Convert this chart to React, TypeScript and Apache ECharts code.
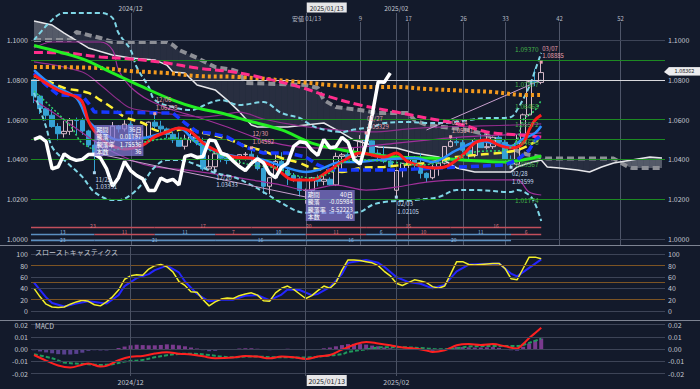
import React, { useEffect, useRef } from 'react';
import * as echarts from 'echarts';

const BG = '#131a2b';
const FONT = '"Noto Sans CJK JP", "Noto Sans", sans-serif';

function weekdayCategories(): string[] {
  const out: string[] = [];
  const d = new Date(Date.UTC(2024, 10, 8));
  while (out.length < 105) {
    const wd = d.getUTCDay();
    const s = `${d.getUTCFullYear()}/${String(d.getUTCMonth() + 1).padStart(2, '0')}/${String(d.getUTCDate()).padStart(2, '0')}`;
    if (wd !== 0 && wd !== 6 && s !== '2025/01/01') out.push(s);
    d.setUTCDate(d.getUTCDate() + 1);
  }
  return out;
}
const categories = weekdayCategories();

// [open, close, low, high]
const ohlc = [
  [1.0800, 1.0720, 1.0683, 1.0805], [1.0718, 1.0655, 1.0628, 1.0725], [1.0655, 1.0622, 1.0595, 1.0662],
  [1.0622, 1.0565, 1.0559, 1.0653], [1.0565, 1.0529, 1.0496, 1.0582], [1.0529, 1.0541, 1.0510, 1.0594],
  [1.0541, 1.0597, 1.0523, 1.0608], [1.0597, 1.0595, 1.0523, 1.0610], [1.0595, 1.0543, 1.0523, 1.0609],
  [1.0543, 1.0472, 1.0461, 1.0549], [1.0472, 1.0418, 1.03331, 1.0497], [1.0418, 1.0495, 1.0418, 1.0540],
  [1.0495, 1.0488, 1.0423, 1.0514], [1.0488, 1.0567, 1.0470, 1.0588], [1.0567, 1.0553, 1.0535, 1.0573],
  [1.0553, 1.0577, 1.0540, 1.0597], [1.0577, 1.0498, 1.0460, 1.0592], [1.0498, 1.0510, 1.0474, 1.0540],
  [1.0510, 1.0511, 1.0483, 1.0545], [1.0511, 1.0587, 1.0505, 1.0590], [1.0587, 1.0567, 1.0554, 1.06298],
  [1.0567, 1.0553, 1.0530, 1.0594], [1.0553, 1.0526, 1.0505, 1.0560], [1.0526, 1.0498, 1.0482, 1.0540],
  [1.0498, 1.0466, 1.0465, 1.0535], [1.0466, 1.0501, 1.0450, 1.0524], [1.0501, 1.0513, 1.0483, 1.0535],
  [1.0513, 1.0489, 1.0471, 1.0522], [1.0489, 1.0352, 1.0343, 1.0509], [1.0352, 1.0363, 1.0344, 1.0421],
  [1.0363, 1.0428, 1.03433, 1.0443], [1.0428, 1.0406, 1.0386, 1.0445], [1.0406, 1.0395, 1.0376, 1.0416],
  [1.0395, 1.0400, 1.0385, 1.0410], [1.0400, 1.0424, 1.0375, 1.0427], [1.0424, 1.0426, 1.0395, 1.0437],
  [1.0426, 1.0407, 1.0390, 1.04582], [1.0407, 1.0354, 1.0345, 1.0420], [1.0354, 1.0265, 1.0226, 1.0366],
  [1.0265, 1.0308, 1.0225, 1.0310], [1.0308, 1.0390, 1.0300, 1.0437], [1.0390, 1.0344, 1.0343, 1.0436],
  [1.0344, 1.0319, 1.0271, 1.0357], [1.0319, 1.0302, 1.0286, 1.0332], [1.0302, 1.0244, 1.0214, 1.0314],
  [1.0244, 1.0244, 1.01774, 1.0253], [1.0244, 1.0307, 1.0232, 1.0312], [1.0307, 1.0290, 1.0265, 1.0323],
  [1.0290, 1.0300, 1.0270, 1.0320], [1.0300, 1.0272, 1.0266, 1.0310], [1.0272, 1.0415, 1.0266, 1.0434],
  [1.0415, 1.0423, 1.0347, 1.0432], [1.0423, 1.0410, 1.0395, 1.0445], [1.0410, 1.0415, 1.0395, 1.0457],
  [1.0415, 1.0497, 1.0413, 1.0522], [1.0497, 1.0493, 1.0433, 1.05329], [1.0493, 1.0431, 1.0415, 1.0495],
  [1.0431, 1.0421, 1.0397, 1.0450], [1.0421, 1.0391, 1.0381, 1.0466], [1.0391, 1.0364, 1.0359, 1.0419],
  [1.0245, 1.0344, 1.02105, 1.0348], [1.0344, 1.0380, 1.0310, 1.0382], [1.0380, 1.0403, 1.0357, 1.0441],
  [1.0403, 1.0383, 1.0349, 1.0417], [1.0383, 1.0330, 1.0304, 1.0430], [1.0330, 1.0308, 1.0285, 1.0335],
  [1.0308, 1.0362, 1.0300, 1.0372], [1.0362, 1.0381, 1.0318, 1.0384], [1.0381, 1.0465, 1.0375, 1.0467],
  [1.0465, 1.0489, 1.0460, 1.05141], [1.0489, 1.0484, 1.0469, 1.0513], [1.0484, 1.0446, 1.0435, 1.0498],
  [1.0446, 1.0420, 1.0400, 1.0456], [1.0420, 1.0500, 1.0410, 1.0505], [1.0500, 1.0459, 1.0458, 1.0528],
  [1.0459, 1.0464, 1.0450, 1.0528], [1.0464, 1.0511, 1.0453, 1.0515], [1.0511, 1.0486, 1.0468, 1.0528],
  [1.0486, 1.0400, 1.0397, 1.0500], [1.0400, 1.0376, 1.03599, 1.0420], [1.0376, 1.0482, 1.0370, 1.0525],
  [1.0482, 1.0624, 1.0472, 1.0630], [1.0624, 1.0790, 1.0617, 1.0797], [1.0790, 1.0787, 1.0768, 1.0854],
  [1.0787, 1.08362, 1.0778, 1.08885],
];

// lagging span (closes plotted 25 bars back)
const laggingSpan = [
  1.0501, 1.0513, 1.0489, 1.0352, 1.0363, 1.0428, 1.0406, 1.0395, 1.0400, 1.0424,
  1.0426, 1.0407, 1.0354, 1.0265, 1.0308, 1.0390, 1.0344, 1.0319, 1.0302, 1.0244,
  1.0244, 1.0307, 1.0290, 1.0300, 1.0272, 1.0415, 1.0423, 1.0410, 1.0415, 1.0497,
  1.0493, 1.0431, 1.0421, 1.0391, 1.0364, 1.0344, 1.0380, 1.0403, 1.0383, 1.0330,
  1.0308, 1.0362, 1.0381, 1.0465, 1.0489, 1.0484, 1.0446, 1.0420, 1.0500, 1.0459,
  1.0464, 1.0511, 1.0486, 1.0400, 1.0376, 1.0482, 1.0624, 1.0790, 1.0787, 1.0834,
];

const spanA = [[0, 1.1095], [3, 1.1075], [5, 1.1035], [9, 1.0960], [13, 1.0925], [16, 1.0910], [20, 1.0900], [22, 1.0874], [23, 1.0839], [25, 1.0834], [27, 1.0774], [30, 1.0749], [32, 1.0698], [34, 1.0640], [36, 1.0573], [37, 1.0563], [42, 1.0563], [48, 1.0583], [51, 1.0533], [53, 1.0497], [57, 1.0462], [60, 1.0457], [63, 1.0432], [67, 1.0412], [70, 1.0357], [73, 1.0337], [79, 1.0337], [80, 1.0362], [82, 1.0382], [84, 1.0397], [85, 1.0362], [87, 1.0357], [90, 1.0347], [92, 1.0337], [94, 1.0362], [96, 1.0382], [99, 1.0397], [102, 1.0412], [104, 1.0407]];
const spanB = [[0, 1.1000], [6, 1.1000], [7, 1.1040], [11, 1.1010], [13, 1.0990], [22, 1.0990], [23, 1.0975], [24, 1.0950], [27, 1.0910], [30, 1.0864], [33, 1.0849], [34, 1.0839], [35, 1.0784], [45, 1.0774], [47, 1.0759], [48, 1.0698], [50, 1.0663], [54, 1.0648], [57, 1.0633], [62, 1.0633], [63, 1.0598], [65, 1.0573], [69, 1.0558], [72, 1.0548], [75, 1.0523], [78, 1.0473], [81, 1.0430], [85, 1.0404], [96, 1.0404], [97, 1.0386], [98, 1.0369], [99, 1.0357], [104, 1.0357]];
const bandUpper = [[0, 1.1000], [3, 1.1101], [5, 1.1136], [11, 1.1136], [13, 1.1111], [14, 1.1035], [16, 1.0950], [17, 1.0864], [19, 1.0764], [20, 1.0698], [23, 1.0663], [26, 1.0648], [29, 1.0683], [31, 1.0698], [34, 1.0673], [38, 1.0688], [41, 1.0633], [44, 1.0608], [45, 1.0588], [47, 1.0558], [51, 1.0538], [53, 1.0550], [56, 1.0563], [58, 1.0583], [62, 1.0588], [65, 1.0583], [68, 1.0583], [72, 1.0598], [75, 1.0608], [77, 1.0608], [79, 1.0613], [80, 1.0648], [82, 1.0764], [83, 1.0849], [84, 1.0935]];
const bandLower = [[0, 1.0734], [2, 1.0563], [3, 1.0462], [5, 1.0397], [8, 1.0312], [10, 1.0236], [13, 1.0196], [14, 1.0196], [16, 1.0221], [18, 1.0281], [20, 1.0362], [22, 1.0397], [24, 1.0397], [27, 1.0372], [30, 1.0332], [33, 1.0312], [36, 1.0271], [38, 1.0236], [41, 1.0181], [44, 1.0136], [46, 1.0131], [52, 1.0131], [54, 1.0136], [56, 1.0171], [58, 1.0186], [63, 1.0196], [67, 1.0211], [70, 1.0246], [73, 1.0246], [79, 1.0236], [80, 1.0246], [82, 1.0221], [83, 1.0176], [84, 1.0090]];
const magentaUpper = [[0, 1.0960], [3, 1.0990], [11, 1.0990], [13, 1.0950], [14, 1.0849], [16, 1.0764], [19, 1.0698], [23, 1.0648], [27, 1.0613], [32, 1.0563], [38, 1.0497], [44, 1.0462], [49, 1.0457], [54, 1.0462], [60, 1.0482], [65, 1.0497], [71, 1.0513], [78, 1.0523], [84, 1.0533]];
const magentaMid = [[0, 1.0890], [8, 1.0839], [11, 1.0774], [14, 1.0698], [16, 1.0658], [20, 1.0638], [24, 1.0623], [28, 1.0613], [31, 1.0623], [34, 1.0638], [38, 1.0603], [44, 1.0568], [50, 1.0548], [56, 1.0538], [62, 1.0553], [68, 1.0563], [74, 1.0568], [80, 1.0573], [84, 1.0578]];
const magentaLower = [[0, 1.0698], [5, 1.0598], [11, 1.0472], [16, 1.0397], [20, 1.0362], [25, 1.0347], [31, 1.0322], [36, 1.0297], [41, 1.0271], [45, 1.0246], [50, 1.0271], [55, 1.0246], [60, 1.0261], [65, 1.0286], [71, 1.0297], [80, 1.0297], [82, 1.0236], [84, 1.0221]];
const orangeLine = [[0, 1.0864], [11, 1.0859], [16, 1.0844], [22, 1.0834], [27, 1.0819], [34, 1.0814], [44, 1.0789], [49, 1.0774], [54, 1.0764], [60, 1.0764], [65, 1.0754], [72, 1.0744], [76, 1.0739], [81, 1.0724], [84, 1.0724]];
const pinkLine = [[0, 1.0937], [5, 1.0935], [11, 1.0915], [16, 1.0905], [22, 1.0884], [27, 1.0859], [33, 1.0839], [38, 1.0809], [44, 1.0764], [49, 1.0714], [54, 1.0673], [60, 1.0638], [65, 1.0608], [71, 1.0573], [75, 1.0538], [80, 1.0523], [84, 1.0513]];
const greenLine = [[0, 1.0972], [8, 1.0905], [12, 1.0849], [18, 1.0764], [23, 1.0698], [27, 1.0658], [31, 1.0633], [35, 1.0598], [41, 1.0548], [46, 1.0482], [51, 1.0447], [54, 1.0432], [60, 1.0412], [66, 1.0407], [71, 1.0397], [78, 1.0387], [81, 1.0397], [84, 1.0417]];
const yellowLine = [[0, 1.0819], [3, 1.0784], [5, 1.0759], [9, 1.0734], [11, 1.0698], [13, 1.0658], [15, 1.0613], [18, 1.0583], [20, 1.0548], [22, 1.0538], [25, 1.0553], [28, 1.0533], [32, 1.0503], [35, 1.0468], [38, 1.0442], [41, 1.0407], [44, 1.0382], [46, 1.0357], [48, 1.0347], [51, 1.0337], [54, 1.0357], [58, 1.0362], [61, 1.0372], [65, 1.0382], [70, 1.0412], [73, 1.0422], [77, 1.0432], [80, 1.0447], [82, 1.0472], [84, 1.0508]];
const kijunLine = [[0, 1.0834], [2, 1.0774], [4, 1.0724], [8, 1.0719], [9, 1.0683], [10, 1.0638], [23, 1.0633], [24, 1.0608], [25, 1.0583], [27, 1.0538], [29, 1.0533], [32, 1.0513], [35, 1.0462], [38, 1.0432], [42, 1.0432], [45, 1.0412], [47, 1.0372], [49, 1.0347], [60, 1.0347], [67, 1.0357], [78, 1.0372], [80, 1.0397], [82, 1.0447], [83, 1.0497], [84, 1.0523]];
const lightBlueLine = [[0, 1.0849], [3, 1.0774], [7, 1.0709], [9, 1.0593], [11, 1.0543], [14, 1.0497], [18, 1.0507], [22, 1.0538], [24, 1.0558], [27, 1.0482], [31, 1.0432], [34, 1.0412], [38, 1.0397], [42, 1.0357], [45, 1.0337], [47, 1.0347], [51, 1.0387], [53, 1.0387], [57, 1.0397], [63, 1.0407], [66, 1.0387], [70, 1.0447], [74, 1.0492], [76, 1.0482], [79, 1.0467], [81, 1.0503], [83, 1.0533], [84, 1.0568]];
const redLine = [[0, 1.0824], [3, 1.0764], [5, 1.0734], [7, 1.0714], [8, 1.0689], [9, 1.0593], [10, 1.0543], [12, 1.0482], [15, 1.0452], [18, 1.0472], [20, 1.0513], [22, 1.0538], [24, 1.0558], [26, 1.0538], [28, 1.0482], [30, 1.0447], [33, 1.0412], [36, 1.0407], [38, 1.0387], [40, 1.0357], [43, 1.0297], [46, 1.0297], [49, 1.0347], [52, 1.0407], [54, 1.0432], [58, 1.0412], [60, 1.0432], [62, 1.0387], [66, 1.0357], [68, 1.0362], [71, 1.0422], [73, 1.0482], [75, 1.0497], [77, 1.0472], [79, 1.0457], [81, 1.0482], [82, 1.0548], [83, 1.0598], [84, 1.0623]];
const greenDotted = [[0, 1.0744], [6, 1.0568], [8, 1.0482], [11, 1.0447], [13, 1.0447], [16, 1.0472], [20, 1.0497], [23, 1.0507], [26, 1.0497], [29, 1.0447], [33, 1.0397], [36, 1.0372], [40, 1.0357], [43, 1.0322], [46, 1.0307], [49, 1.0332], [51, 1.0382], [55, 1.0397], [59, 1.0387], [64, 1.0372], [69, 1.0397], [73, 1.0437], [78, 1.0447], [80, 1.0497], [81, 1.0598], [83, 1.0648], [84, 1.0698]];
const trendLine1 = [[10, 1.0432], [45, 1.0211]];
const trendLine2 = [[65, 1.0548], [84, 1.0799]];

const priceGrid = [1.0, 1.02, 1.04, 1.06, 1.08, 1.1];
const fibLevels = [1.0937, 1.07577, 1.06468, 1.05572, 1.04676, 1.03567, 1.01774];
const fibLabels = ['1.09370', '1.07577', '1.06468', '1.05572', '1.04676', '1.03567', '1.01774'];
const currentPrice = 1.08362;

const extremes = [
  { i: 10, v: 1.03331, kind: 'low', d: '11/22', t: '1.03331' },
  { i: 20, v: 1.06298, kind: 'high', d: '12/06', t: '1.06298' },
  { i: 30, v: 1.03433, kind: 'low', d: '12/20', t: '1.03433' },
  { i: 36, v: 1.04582, kind: 'high', d: '12/30', t: '1.04582' },
  { i: 55, v: 1.05329, kind: 'high', d: '01/27', t: '1.05329' },
  { i: 60, v: 1.02105, kind: 'low', d: '02/03', t: '1.02105' },
  { i: 69, v: 1.05141, kind: 'high', d: '02/14', t: '1.05141' },
  { i: 79, v: 1.03599, kind: 'low', d: '02/28', t: '1.03599' },
  { i: 84, v: 1.08885, kind: 'high', d: '03/07', t: '1.08885' },
];

const monthLines = [16, 45, 60];
const monthLabels = [{ i: 16, t: '2024/12' }, { i: 60, t: '2025/02' }];
const countLines = [{ i: 45, t: '安値 01/13' }, { i: 54, t: '9' }, { i: 62, t: '17' }, { i: 71, t: '26' }, { i: 78, t: '33' }, { i: 87, t: '42' }, { i: 97, t: '52' }];

const infoBoxes = [
  { i: 10, v: 1.0573, rows: [['期間', '36日'], ['騰落', '0.01797'], ['騰落率', '1.75536'], ['本数', '36']] },
  { i: 45, v: 1.0246, rows: [['期間', '40日'], ['騰落', '-0.05984'], ['騰落率', '-5.52223'], ['本数', '40']] },
];

// wave count rows: [fromIdx(-1 = left edge), toIdx, label, colour key]
const waveRow1 = [[-1, 20, '23', 'r'], [20, 36, '17', 'r'], [36, 55, '20', 'r'], [55, 69, '15', 'r'], [69, 84, '16', 'r']];
const waveRow2 = [[-1, 10, '13', 'b'], [10, 20, '11', 'r'], [20, 30, '11', 'b'], [30, 36, '7', 'r'], [36, 45, '10', 'b'], [45, 55, '11', 'r'], [55, 60, '6', 'b'], [60, 69, '10', 'r'], [69, 79, '11', 'b'], [79, 84, '6', 'r']];
const waveRow3 = [[-1, 10, '23', 'b'], [10, 30, '21', 'b'], [30, 45, '16', 'b'], [45, 60, '16', 'b'], [60, 79, '20', 'b']];
const waveRowLevels = [1.00603, 1.00276, 0.9995];

// slow stochastics
const stochK = [40, 25, 12, 7, 6, 7, 12, 16, 19, 17, 11, 9, 16, 25, 37, 56, 62, 64, 63, 74, 80, 82, 78, 69, 52, 45, 34, 33, 20, 9, 16, 21, 23, 22, 27, 30, 32, 28, 18, 17, 32, 40, 44, 38, 30, 22, 27, 36, 44, 40, 50, 72, 90, 90, 89, 87, 85, 80, 70, 62, 49, 45, 50, 55, 53, 50, 43, 40, 44, 65, 87, 87, 82, 81, 82, 83, 84, 84, 75, 57, 55, 75, 95, 95, 92];
const stochD = [[0, 50], [2, 24], [3, 14], [5, 8], [7, 13], [9, 17], [10, 16], [12, 13], [14, 28], [15, 44], [17, 58], [19, 65], [20, 72], [22, 80], [24, 68], [25, 52], [27, 30], [29, 17], [31, 20], [33, 20], [35, 27], [37, 28], [39, 19], [41, 29], [42, 38], [44, 37], [46, 28], [47, 30], [49, 42], [51, 65], [52, 85], [55, 90], [57, 85], [58, 78], [60, 60], [62, 51], [64, 48], [66, 40], [68, 46], [70, 70], [72, 82], [74, 83], [77, 84], [79, 66], [80, 61], [82, 76], [84, 91]];

// MACD
const macdLine = [[0, -0.0049], [2, -0.0095], [4, -0.0135], [6, -0.0151], [8, -0.0128], [9, -0.0118], [11, -0.0143], [12, -0.0138], [14, -0.0092], [16, -0.0063], [18, -0.0057], [20, -0.0037], [22, -0.0027], [24, -0.0038], [26, -0.0045], [28, -0.006], [30, -0.0076], [33, -0.007], [35, -0.0057], [37, -0.0062], [39, -0.0076], [41, -0.0062], [43, -0.0068], [45, -0.0081], [47, -0.0062], [49, -0.0049], [51, -0.0005], [53, 0.0035], [55, 0.0058], [57, 0.0045], [59, 0.003], [61, 0.0012], [63, 0.0004], [65, -0.0012], [66, -0.0024], [68, -0.001], [70, 0.003], [72, 0.004], [74, 0.0032], [76, 0.004], [78, 0.0022], [80, 0.0005], [81, 0.004], [82, 0.009], [83, 0.013], [84, 0.0173]];
const signalLine = [[0, -0.0043], [3, -0.0076], [5, -0.011], [9, -0.0124], [11, -0.013], [13, -0.0124], [15, -0.0103], [18, -0.0089], [20, -0.0068], [22, -0.0051], [24, -0.004], [26, -0.0038], [29, -0.0049], [31, -0.0062], [33, -0.0068], [35, -0.0062], [37, -0.0062], [40, -0.0068], [42, -0.0068], [44, -0.007], [46, -0.0068], [48, -0.0057], [51, -0.0043], [52, -0.0025], [55, -0.0003], [58, 0.0014], [61, 0.0014], [65, 0.0005], [67, -0.0003], [70, 0.0005], [72, 0.002], [76, 0.0024], [80, 0.0024], [82, 0.005], [84, 0.0086]];
const macdHist = [-0.001, -0.002, -0.0028, -0.0035, -0.0042, -0.0045, -0.0045, -0.004, -0.003, -0.0015, -0.001, -0.0012, -0.0012, -0.0005, 0.0008, 0.002, 0.003, 0.0035, 0.0032, 0.003, 0.003, 0.0033, 0.0038, 0.0035, 0.003, 0.0022, 0.0012, 0.0004, -0.001, -0.0018, -0.0015, -0.0008, -0.0004, 0, 0.0004, 0.0006, 0.0006, 0.0002, -0.0006, -0.001, -0.0008, -0.0002, 0.0002, 0, -0.0006, -0.001, -0.0006, 0, 0.0006, 0.0012, 0.0022, 0.0032, 0.004, 0.0042, 0.004, 0.0036, 0.0028, 0.0022, 0.0012, 0.0006, 0.0002, -0.0002, -0.0004, -0.0004, -0.0006, -0.0012, -0.0016, -0.001, 0, 0.0012, 0.0018, 0.0016, 0.0014, 0.0012, 0.0012, 0.0014, 0.0016, 0.001, -0.0002, -0.001, -0.0014, 0.0018, 0.0045, 0.007, 0.0086];

const Y0 = { min: 0.99648, max: 1.11859 };
const Y1 = { min: -15.9, max: 112.9 };
const Y2 = { min: -0.02204, max: 0.02286 };

function lineSeries(data: any[], color: string, width: number, type: any, z: number, smooth: any = 0.35, extra: any = {}) {
  return {
    type: 'line', data, xAxisIndex: 0, yAxisIndex: 0, symbol: 'none', showSymbol: false, silent: true,
    smooth, z, lineStyle: { color, width, type, cap: 'butt' }, ...extra,
  };
}

// value of a knot polyline at position k (drawing helper for the cloud)
function at(knots: number[][], k: number): number {
  if (k <= knots[0][0]) return knots[0][1];
  for (let j = 1; j < knots.length; j++) {
    if (k <= knots[j][0]) {
      const [x0, y0] = knots[j - 1];
      const [x1, y1] = knots[j];
      return y0 + ((y1 - y0) * (k - x0)) / (x1 - x0);
    }
  }
  return knots[knots.length - 1][1];
}

function buildOption(): any {
  const lab = (values: number[], fmt: (v: number) => string) => ({
    customValues: values, formatter: fmt, color: '#c4c8d2', fontSize: 7, fontFamily: FONT, margin: 3,
  });
  const yAx = (gridIndex: number, r: { min: number; max: number }, position: string, values: number[], fmt: (v: number) => string) => ({
    type: 'value', gridIndex, min: r.min, max: r.max, position,
    axisLine: { show: false }, axisTick: { show: false }, splitLine: { show: false },
    axisLabel: lab(values, fmt),
  });
  const xAx = (gridIndex: number, showLabels: boolean) => ({
    type: 'category', gridIndex, data: categories, boundaryGap: true,
    axisLine: { show: false }, axisTick: { show: false }, splitLine: { show: false },
    axisLabel: showLabels
      ? { show: true, interval: (idx: number) => monthLabels.some((m) => m.i === idx), formatter: (v: string) => v.slice(0, 7), color: '#c4c8d2', fontSize: 7, fontFamily: FONT, margin: 2 }
      : { show: false },
  });
  const pf = (v: number) => v.toFixed(4);
  const sf = (v: number) => String(v);
  const mf = (v: number) => v.toFixed(2);
  const stochVals = [0, 20, 40, 60, 80, 100];
  const macdVals = [-0.02, -0.01, 0, 0.01, 0.02];
  const vmarks = monthLines.map((i) => ({ xAxis: categories[i] }));
  const lastIdx = categories.length - 1;

  return {
    animation: false,
    backgroundColor: BG,
    textStyle: { fontFamily: FONT },
    grid: [
      { left: 31, right: 35, top: 3, height: 243 },
      { left: 31, right: 35, top: 247, height: 73 },
      { left: 31, right: 35, top: 321, height: 55 },
    ],
    xAxis: [xAx(0, false), xAx(1, false), xAx(2, true)],
    yAxis: [
      yAx(0, Y0, 'left', priceGrid, pf), yAx(0, Y0, 'right', priceGrid, pf),
      yAx(1, Y1, 'left', stochVals, sf), yAx(1, Y1, 'right', stochVals, sf),
      yAx(2, Y2, 'left', macdVals, mf), yAx(2, Y2, 'right', macdVals, mf),
    ],
    series: [
      {
        type: 'line', data: [[0, null]], xAxisIndex: 0, yAxisIndex: 0, symbol: 'none', silent: true, z: 0,
        markLine: {
          silent: true, symbol: 'none', animation: false, label: { show: false },
          data: [
            ...priceGrid.map((v) => ({ yAxis: v, lineStyle: { color: '#3d4457', width: 1, type: 'solid' } })),
            ...fibLevels.map((v) => ({ yAxis: v, lineStyle: { color: '#1d8a22', width: 1, type: 'solid' } })),
          ],
        },
      },
      {
        type: 'custom', xAxisIndex: 0, yAxisIndex: 0, silent: true, z: 1, data: [0],
        renderItem: (_p: any, api: any) => {
          const light = 'rgba(165,168,180,0.45)';
          const dark = 'rgba(125,130,150,0.2)';
          const children: any[] = [];
          for (let k = 0; k < lastIdx; k++) {
            const a0 = at(spanA, k), a1 = at(spanA, k + 1), b0 = at(spanB, k), b1 = at(spanB, k + 1);
            const d0 = a0 - b0, d1 = a1 - b1;
            if (d0 * d1 < 0) {
              const t = d0 / (d0 - d1);
              const xm = k + t;
              const ym = a0 + (a1 - a0) * t;
              children.push({ type: 'polygon', shape: { points: [api.coord([k, a0]), api.coord([xm, ym]), api.coord([k, b0])] }, style: { fill: d0 > 0 ? light : dark } });
              children.push({ type: 'polygon', shape: { points: [api.coord([xm, ym]), api.coord([k + 1, a1]), api.coord([k + 1, b1])] }, style: { fill: d1 > 0 ? light : dark } });
            } else {
              children.push({
                type: 'polygon',
                shape: { points: [api.coord([k, a0]), api.coord([k + 1, a1]), api.coord([k + 1, b1]), api.coord([k, b0])] },
                style: { fill: d0 + d1 > 0 ? light : dark },
              });
            }
          }
          return { type: 'group', children };
        },
      },
      lineSeries(spanB, '#8d8f96', 4, [7, 4], 2, false),
      lineSeries(spanA, '#e6e6ea', 1.5, 'solid', 2, false),
      {
        type: 'candlestick', data: ohlc, xAxisIndex: 0, yAxisIndex: 0, barWidth: 5, silent: true, z: 3,
        itemStyle: { color: 'rgba(0,0,0,0)', color0: '#35a2d4', borderColor: '#d6bac9', borderColor0: '#35a2d4', borderWidth: 1 },
        markLine: {
          silent: true, symbol: 'none', animation: false,
          data: [{ yAxis: currentPrice, lineStyle: { color: '#d8d8dc', width: 1, type: 'solid' }, label: { show: false } }],
        },
      },
      lineSeries(magentaUpper, '#a0309a', 1.2, 'solid', 4),
      lineSeries(magentaMid, '#8e2c8a', 1.2, 'solid', 4),
      lineSeries(magentaLower, '#a0309a', 1.2, 'solid', 4),
      lineSeries(bandUpper, '#7fd6e6', 2, [5, 3], 4),
      lineSeries(bandLower, '#7fd6e6', 2, [5, 3], 4),
      lineSeries(trendLine1, '#c9a0cf', 1, 'solid', 4, false),
      lineSeries(trendLine2, '#c9a0cf', 1, 'solid', 4, false),
      lineSeries(orangeLine, '#f39a1e', 4, [3, 3], 5),
      lineSeries(pinkLine, '#ff2d8c', 3, [9, 4], 5),
      lineSeries(greenLine, '#22ee22', 3, 'solid', 5),
      lineSeries(yellowLine, '#fff035', 2.5, [8, 5], 6),
      lineSeries(kijunLine, '#1638ff', 3.5, [8, 4], 6, false),
      lineSeries(lightBlueLine, '#2b8dff', 2.5, 'solid', 6),
      lineSeries(redLine, '#ff1c1c', 3, 'solid', 6),
      lineSeries(greenDotted, '#2fd06a', 1.5, [2, 2], 6),
      lineSeries(laggingSpan, '#ffffff', 3.5, 'solid', 7, false),
      // stochastics
      {
        type: 'line', data: stochK, xAxisIndex: 1, yAxisIndex: 2, symbol: 'none', silent: true, z: 4,
        lineStyle: { color: '#f2ee2a', width: 1.5 },
        markLine: {
          silent: true, symbol: 'none', animation: false, label: { show: false },
          data: [
            ...[0, 40, 60, 100].map((v) => ({ yAxis: v, lineStyle: { color: '#3d4457', width: 1, type: 'solid' } })),
            ...[20, 50, 80].map((v) => ({ yAxis: v, lineStyle: { color: '#7c5424', width: 1, type: 'solid' } })),
            ...vmarks.map((m) => ({ ...m, lineStyle: { color: '#4a5163', width: 1, type: 'solid' } })),
          ],
        },
      },
      {
        type: 'line', data: stochD, xAxisIndex: 1, yAxisIndex: 2, symbol: 'none', silent: true, z: 3,
        lineStyle: { color: '#2424ff', width: 2 },
      },
      // MACD
      {
        type: 'bar', xAxisIndex: 2, yAxisIndex: 4, silent: true, barWidth: 4, z: 2,
        data: macdHist.map((v) => ({ value: v, itemStyle: { color: v >= 0 ? '#7a3a8e' : '#58408f' } })),
        markLine: {
          silent: true, symbol: 'none', animation: false, label: { show: false },
          data: [
            ...macdVals.map((v) => ({ yAxis: v, lineStyle: { color: '#3d4457', width: 1, type: 'solid' } })),
            ...vmarks.map((m) => ({ ...m, lineStyle: { color: '#4a5163', width: 1, type: 'solid' } })),
          ],
        },
      },
      {
        type: 'line', data: signalLine, xAxisIndex: 2, yAxisIndex: 4, symbol: 'none', silent: true, z: 3, smooth: 0.35,
        lineStyle: { color: '#1f9a5c', width: 2, type: [4, 2] },
      },
      {
        type: 'line', data: macdLine, xAxisIndex: 2, yAxisIndex: 4, symbol: 'none', silent: true, z: 4, smooth: 0.35,
        lineStyle: { color: '#ff2020', width: 2 },
      },
    ],
  };
}

export default function App() {
  const ref = useRef<HTMLDivElement>(null);
  useEffect(() => {
    const el = ref.current;
    if (!el) return;
    const chart = echarts.init(el, null, { renderer: 'svg' });
    chart.setOption(buildOption());

    const P = (i: number, v: number) => chart.convertToPixel({ xAxisIndex: 0, yAxisIndex: 0 }, [i, v]) as number[];
    const step = P(1, 1.05)[0] - P(0, 1.05)[0];
    const leftEdge = P(0, 1.05)[0] - step / 2;
    const bottom0 = P(0, Y0.min)[1];
    const g: any[] = [];
    const txt = (x: number, y: number, text: string, fill: string, size = 7, align = 'left', z = 100) => ({
      type: 'text', x, y, z, silent: true,
      style: { text, fill, font: `${size}px ${FONT}`, textAlign: align, textVerticalAlign: 'middle' },
    });
    const ln = (x1: number, y1: number, x2: number, y2: number, stroke: string, lineWidth = 1, z = 0) => ({
      type: 'line', z, silent: true, shape: { x1, y1, x2, y2 }, style: { stroke, lineWidth },
    });

    // panel separators
    g.push(ln(0, 245.5, 700, 245.5, '#7d8392', 1, 50));
    g.push(ln(0, 320.5, 700, 320.5, '#7d8392', 1, 50));

    // month lines and labels (main panel)
    monthLines.forEach((i) => {
      const x = Math.round(P(i, 1.05)[0]) + 0.5;
      g.push(ln(x, 13, x, bottom0, '#4f5669', 1, 0));
    });
    monthLabels.forEach((m) => g.push(txt(P(m.i, 1.05)[0], 7.5, m.t, '#c4c8d2', 6.5, 'center')));

    // count lines
    countLines.forEach((c) => {
      const x = Math.round(P(c.i, 1.05)[0]) + 0.5;
      if (!monthLines.includes(c.i)) g.push(ln(x, 22, x, bottom0, '#4f5669', 1, 0));
      g.push(txt(x, 18, c.t, '#b8bcc6', 6, 'center'));
    });

    // cursor date boxes
    const xc = P(45, 1.05)[0];
    g.push({ type: 'rect', z: 110, silent: true, shape: { x: xc + 1, y: 2.5, width: 40, height: 10 }, style: { fill: '#e6e6e8' } });
    g.push(txt(xc + 21, 7.5, '2025/01/13', '#1a1d26', 6.5, 'center', 111));
    g.push({ type: 'rect', z: 110, silent: true, shape: { x: xc + 1, y: 375, width: 40, height: 11 }, style: { fill: '#e6e6e8' } });
    g.push(txt(xc + 21, 380.5, '2025/01/13', '#1a1d26', 7, 'center', 111));

    // fib labels
    fibLevels.forEach((v, k) => {
      const [x, y] = P(80, v);
      g.push(txt(x - 2, y - 4, fibLabels[k], '#43b04a', 6.5, 'left'));
    });

    // extreme labels
    extremes.forEach((e) => {
      const [x, y] = P(e.i, e.v);
      if (e.kind === 'high') {
        g.push({ type: 'rect', z: 101, silent: true, shape: { x: x - 1.5, y: y - 1.5, width: 3, height: 3 }, style: { fill: '#e6a0ae' } });
        g.push(txt(x + 1, y - 14, e.d, '#e6a0ae', 6));
        g.push(txt(x + 1, y - 6.5, e.t, '#e6a0ae', 6));
      } else {
        g.push({ type: 'rect', z: 101, silent: true, shape: { x: x - 1.5, y: y - 1.5, width: 3, height: 3 }, style: { fill: '#a9d4ee' } });
        g.push(txt(x + 1, y + 6.5, e.d, '#c6dcee', 6));
        g.push(txt(x + 1, y + 14, e.t, '#c6dcee', 6));
      }
    });

    // info boxes
    infoBoxes.forEach((b) => {
      const [x, y] = P(b.i, b.v);
      const w = 49, rh = 7.5;
      g.push({ type: 'rect', z: 105, silent: true, shape: { x, y, width: w, height: rh * 4 + 1 }, style: { fill: 'rgba(132,120,214,0.72)' } });
      b.rows.forEach((r, k) => {
        g.push(txt(x + 2, y + 4.3 + k * rh, r[0], '#ffffff', 6, 'left', 106));
        g.push(txt(x + w - 2, y + 4.3 + k * rh, r[1], '#ffffff', 6, 'right', 106));
      });
    });

    // wave count rows
    const rowColor: any = { r: '#c24f5c', b: '#5b8fc0' };
    const rowText: any = { r: '#dc737d', b: '#8dbbe2' };
    const labelLift = [2.5, 3, 1];
    [waveRow1, waveRow2, waveRow3].forEach((row, ri) => {
      const y = Math.round(P(0, waveRowLevels[ri])[1]) + 0.5;
      row.forEach((s: any) => {
        const x1 = s[0] < 0 ? leftEdge : P(s[0], 1.05)[0];
        const x2 = P(s[1], 1.05)[0];
        g.push(ln(x1, y, x2, y, rowColor[s[3]], 1.5, 20));
        g.push(txt((x1 + x2) / 2, y - labelLift[ri], s[2], rowText[s[3]], 5, 'center', 21));
      });
    });

    // current price tag on the right axis
    const yp = P(0, currentPrice)[1];
    g.push({ type: 'polygon', z: 110, silent: true, shape: { points: [[664, yp - 0.5], [669, yp - 5.5], [669, yp + 3]] }, style: { fill: '#ececee' } });
    g.push({ type: 'rect', z: 110, silent: true, shape: { x: 669, y: yp - 5.5, width: 31, height: 8.5 }, style: { fill: '#ececee' } });
    g.push(txt(684.5, yp - 1.5, '1.08362', '#1a1d26', 5.5, 'center', 111));

    // panel titles
    g.push(txt(35, 251.5, 'スローストキャスティクス', '#c4c8d2', 7, 'left'));
    g.push(txt(35, 326, 'MACD', '#c4c8d2', 7, 'left'));

    chart.setOption({ graphic: g });
    return () => chart.dispose();
  }, []);
  return <div ref={ref} style={{ position: 'fixed', left: 0, top: 0, width: 700, height: 389, background: BG }} />;
}
